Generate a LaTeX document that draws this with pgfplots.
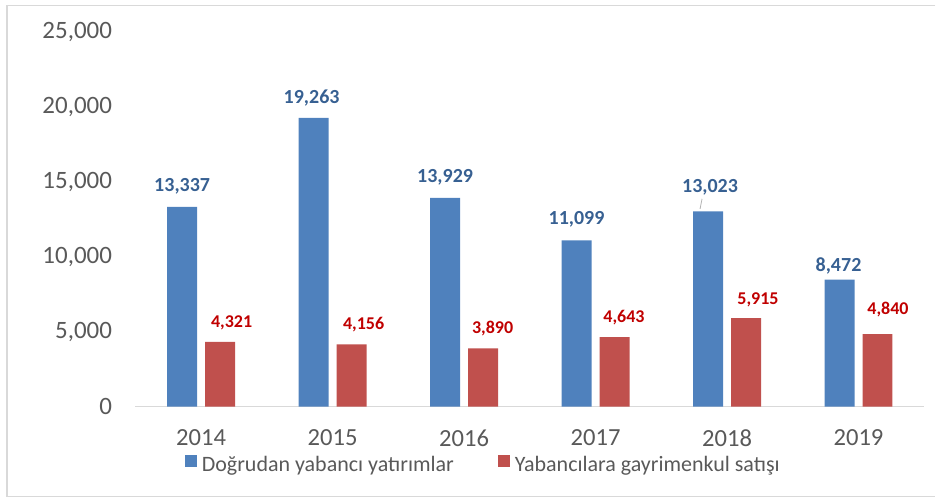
\documentclass[border=0pt]{standalone}
\usepackage{pgfplots}
\pgfplotsset{compat=1.18}
\usepackage{pgfplotstable}
\usepackage{fontspec}
\setmainfont{Carlito}
\definecolor{barblue}{HTML}{4F81BD}
\definecolor{barred}{HTML}{C0504D}
\definecolor{labelblue}{HTML}{376092}
\definecolor{labelred}{HTML}{C00000}
\definecolor{tickgray}{HTML}{595959}
\definecolor{axisgray}{HTML}{D9D9D9}
\definecolor{framegray}{HTML}{D9D9D9}

\pgfplotstableread{
x y dx dy
0 13337 0 10.3
1 19263 -1 10
2 13929 0 10.3
3 11099 0 10.7
4 13023 1 12.1
5 8472 -0.5 7
}\bluedata
\pgfplotstableread{
x y dx dy
0 4321 5.75 9.5
1 4156 6 9.7
2 3890 4.8 9.8
3 4643 4.75 10
4 5915 6 9.25
5 4840 5.25 12.2
}\reddata

\begin{document}
\begin{tikzpicture}
\path (0pt,0pt) rectangle (468pt,249pt);
\draw[framegray, line width=0.75pt] (468pt,246.25pt) -- (3.5pt,246.25pt) -- (3.5pt,0.6pt) -- (468pt,0.6pt);
\begin{axis}[
  at={(67.75pt,45.5pt)}, anchor=south west,
  scale only axis, width=394.75pt, height=187.5pt,
  xmin=-0.5, xmax=5.5, ymin=0, ymax=25000,
  clip=false,
  ybar=4pt, bar width=15pt,
  axis lines=left, axis line style={-},
  x axis line style={draw=axisgray, line width=0.75pt},
  y axis line style={draw=none},
  major tick length=0pt, tick style={draw=none},
  xtick={0,1,2,3,4,5},
  xticklabels={2014,2015,2016,2017,2018,2019},
  ytick={0,5000,10000,15000,20000,25000},
  scaled y ticks=false,
  /pgf/number format/.cd, fixed, precision=0, 1000 sep={,}, assume math mode=true,
  /pgfplots/.cd,
  x tick label style={anchor=north, inner sep=0pt, yshift=-11.5pt, text=tickgray, font=\fontsize{12.3}{14}\selectfont},
  y tick label style={anchor=east, inner sep=0pt, xshift=-11.5pt, text=tickgray, font=\fontsize{12.5}{14}\selectfont},
  visualization depends on={\thisrow{dx} \as \dx},
  visualization depends on={\thisrow{dy} \as \dy},
  nodes near coords,
  legend image code/.code={\fill[#1,draw=none] (0pt,-0.5pt) rectangle (6pt,5.5pt);},
  legend columns=2,
  legend style={draw=none, fill=none, inner sep=0pt, outer sep=0pt,
    at={(0.0627,-0.1547)}, anchor=west,
    nodes={inner sep=0pt, text=tickgray, font=\fontsize{11}{13}\selectfont},
    /tikz/every odd column/.append style={column sep=2.5pt},
    /tikz/every even column/.append style={column sep=22pt}},
]
\addplot[fill=barblue, draw=none,
  nodes near coords style={anchor=center, xshift=\dx pt, yshift=\dy pt, text=labelblue, font=\bfseries\fontsize{10}{12}\selectfont}]
  table[x=x,y=y] {\bluedata};
\addplot[fill=barred, draw=none,
  nodes near coords style={anchor=center, xshift=\dx pt, yshift=\dy pt, text=labelred, font=\bfseries\fontsize{9}{11}\selectfont}]
  table[x=x,y=y] {\reddata};
\legend{Doğrudan yabancı yatırımlar, Yabancılara gayrimenkul satışı}
\draw[gray!60, line width=0.4pt] (axis cs:3.81,13870) -- (axis cs:3.795,13200);
\end{axis}
\end{tikzpicture}
\end{document}
